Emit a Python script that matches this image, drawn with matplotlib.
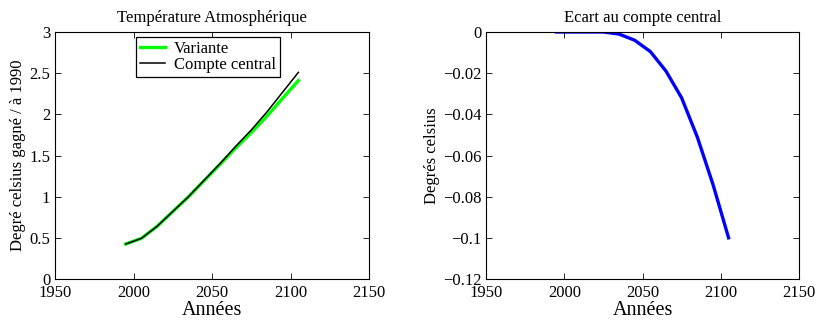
import matplotlib
matplotlib.use("Agg")
import matplotlib.pyplot as plt

plt.rcParams['font.family'] = ['Liberation Serif', 'DejaVu Serif']

# donnees
annees = [1995, 2005, 2015, 2025, 2035, 2045, 2055, 2065, 2075, 2085, 2095, 2105]
compte_central = [0.425, 0.494, 0.64, 0.82, 1.00, 1.20, 1.40, 1.61, 1.81, 2.03, 2.27, 2.51]
ecart = [0.0, 0.0, 0.0, 0.0, -0.001, -0.004, -0.0095, -0.019, -0.032, -0.051, -0.074, -0.100]
variante = [c + e for c, e in zip(compte_central, ecart)]

xticks = [1950, 2000, 2050, 2100, 2150]
yticks_temp = [0, 0.5, 1, 1.5, 2, 2.5, 3]
yticks_ecart = [-0.12, -0.1, -0.08, -0.06, -0.04, -0.02, 0]


def style_axes(ax):
    ax.tick_params(direction='in', top=True, right=True, labelsize=12,
                   length=4, width=0.6)
    ax.tick_params(axis='x', pad=4)
    for s in ax.spines.values():
        s.set_linewidth(0.8)


fig = plt.figure(figsize=(8.19, 3.23), dpi=100)
ax1 = fig.add_axes([0.0672, 0.1362, 0.3834, 0.7647])
ax2 = fig.add_axes([0.5934, 0.1362, 0.3822, 0.7647])

ax1.plot(annees, variante, color='#00ff00', lw=2.4, label='Variante')
ax1.plot(annees, compte_central, color='black', lw=1.1, label='Compte central')
ax1.set_xlim(1950, 2150)
ax1.set_ylim(0, 3)
ax1.set_xticks(xticks)
ax1.set_yticks(yticks_temp)
ax1.set_yticklabels(['0', '0.5', '1', '1.5', '2', '2.5', '3'])
ax1.set_title('Température Atmosphérique', fontsize=12, pad=7)
ax1.set_xlabel('Années', fontsize=14.5, labelpad=0)
ax1.set_ylabel('Degré celsius gagné / à 1990', fontsize=12, labelpad=2)
leg = ax1.legend(loc='upper left', bbox_to_anchor=(0.258, 0.98), fontsize=12,
                 frameon=True, fancybox=False, framealpha=1, edgecolor='black',
                 borderpad=0.25, labelspacing=0.0, handlelength=1.5,
                 handletextpad=0.5, borderaxespad=0.0)
leg.get_frame().set_linewidth(0.9)
style_axes(ax1)

ax2.plot(annees, ecart, color='blue', lw=2.4)
ax2.set_xlim(1950, 2150)
ax2.set_ylim(-0.12, 0)
ax2.set_xticks(xticks)
ax2.set_yticks(yticks_ecart)
ax2.set_yticklabels(['\u22120.12', '\u22120.1', '\u22120.08', '\u22120.06',
                     '\u22120.04', '\u22120.02', '0'])
ax2.set_title('Ecart au compte central', fontsize=12, pad=7)
ax2.set_xlabel('Années', fontsize=14.5, labelpad=0)
ax2.set_ylabel('Degrés celsius', fontsize=12, labelpad=2)
style_axes(ax2)

fig.savefig('out.png', dpi=100)
